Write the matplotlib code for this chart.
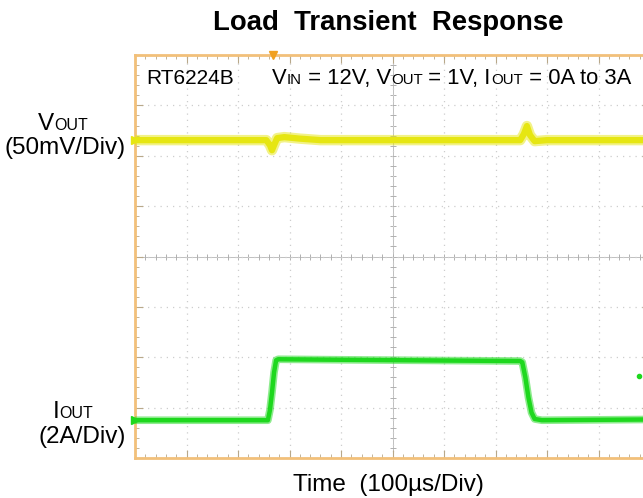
import numpy as np
import matplotlib
matplotlib.use("Agg")
import matplotlib.pyplot as plt

plt.rcParams["font.family"] = ["Liberation Sans", "DejaVu Sans"]

# Scope settings
TIME_PER_DIV = 100     # us/div
VOUT_PER_DIV = 50      # mV/div
IOUT_PER_DIV = 2       # A/div
VOUT_POS = 6.31        # screen divisions from bottom
IOUT_POS = 0.75

# VOUT trace (AC deviation, mV)
vout_t = [0, 255, 262, 266, 270, 276, 290, 320, 360, 748, 755, 761, 767, 776, 800, 1000]
vout_mv = [0, 0, -5, -10, -5, 2, 3, 1.5, 0, 0, 6, 14, 5, -1, 0, 0]

# IOUT trace (A)
iout_t = [0, 258, 262, 266, 270, 274, 278, 400, 600, 748, 752, 758, 764, 770, 776, 790, 1000]
iout_a = [0, 0, 0.4, 1.1, 1.9, 2.38, 2.42, 2.40, 2.37, 2.35, 2.3, 1.7, 0.9, 0.3, 0.05, 0, 0.03]

TRIGGER_T = 268
MARKER_PT = (979, 1.75)

YELLOW = "#e6e612"
GREEN = "#1ed81e"
BORDER = "#f2c07a"

fig = plt.figure(figsize=(6.43, 4.98), dpi=100)
W, H = 643, 498
ax = fig.add_axes([135 / W, 40 / H, 515 / W, 403 / H])

ax.set_xlim(0, 10 * TIME_PER_DIV)
ax.set_ylim(0, 8)

# grid + border
ax.set_xticks(np.arange(0, 1001, TIME_PER_DIV))
ax.set_yticks(np.arange(0, 9, 1))
ax.set_xticks(np.arange(0, 1001, TIME_PER_DIV / 5), minor=True)
ax.set_yticks(np.arange(0, 8.01, 0.2), minor=True)
ax.grid(True, which="major", linestyle=(0, (1, 4)), color="#cdcdcd", linewidth=0.9)
ax.tick_params(which="both", direction="in", top=True, right=True,
               labelbottom=False, labelleft=False, color="#b8a88a")
ax.tick_params(which="major", length=6, width=0.8)
ax.tick_params(which="minor", length=3, width=0.6)
for sp in ax.spines.values():
    sp.set_color(BORDER)
    sp.set_linewidth(2)

# center crosshair with small ticks
ax.axhline(4, color="#c0c0c0", linewidth=0.7, zorder=1)
ax.axvline(500, color="#c0c0c0", linewidth=0.7, zorder=1)
ax.plot(np.arange(0, 1001, TIME_PER_DIV / 5), np.full(51, 4.0), linestyle="none",
        marker="|", markersize=5, color="#b0b0b0", markeredgewidth=0.7, zorder=1)
ax.plot(np.full(41, 500.0), np.arange(0, 8.01, 0.2), linestyle="none",
        marker="_", markersize=5, color="#b0b0b0", markeredgewidth=0.7, zorder=1)

# traces
vy = VOUT_POS + np.array(vout_mv) / VOUT_PER_DIV
iy = IOUT_POS + np.array(iout_a) / IOUT_PER_DIV
ax.plot(vout_t, vy, color=YELLOW, linewidth=7.5, alpha=0.5, solid_joinstyle="round", zorder=3)
ax.plot(vout_t, vy, color=YELLOW, linewidth=4.5, solid_joinstyle="round", zorder=3)
ax.plot(iout_t, iy, color=GREEN, linewidth=5.5, alpha=0.5, solid_joinstyle="round", zorder=3)
ax.plot(iout_t, iy, color=GREEN, linewidth=3.2, solid_joinstyle="round", zorder=3)
ax.plot([MARKER_PT[0]], [IOUT_POS + MARKER_PT[1] / IOUT_PER_DIV], "o", color=GREEN,
        markersize=3, zorder=3)

# channel / trigger markers
ax.plot([0], [VOUT_POS], marker=">", color=YELLOW, markersize=6, clip_on=False, zorder=4)
ax.plot([0], [IOUT_POS], marker=">", color=GREEN, markersize=6, clip_on=False, zorder=4)
ax.plot([TRIGGER_T], [8], marker="v", color="#f0a020", markersize=6, clip_on=False, zorder=4)


def chain(parts, x, y, color="black"):
    """Draw text pieces on one baseline, small pieces act as subscripts."""
    prev = None
    for s, size in parts:
        if prev is None:
            prev = fig.text(x / W, 1 - y / H, s, fontsize=size, color=color,
                            ha="left", va="baseline")
        else:
            prev = ax.annotate(s, xy=(1, 1 - y / H), xycoords=(prev, "figure fraction"),
                               fontsize=size, color=color, ha="left", va="baseline",
                               annotation_clip=False)
    return prev


BIG, SMALL = 15.8, 10.8
fig.text(146 / W, 1 - 84 / H, "RT6224B", fontsize=15, ha="left", va="baseline")
chain([("V", BIG), ("IN", SMALL), (" = 12V, V", BIG), ("OUT", SMALL),
       (" = 1V, I", BIG), ("OUT", SMALL), (" = 0A to 3A", BIG)], 272, 84)

LBL, LSUB = 17.5, 11.5
chain([("V", LBL), ("OUT", LSUB)], 38, 130)
fig.text(126 / W, 1 - 154 / H, "(50mV/Div)", fontsize=LBL, ha="right", va="baseline")
chain([("I", LBL), ("OUT", LSUB)], 53, 418)
fig.text(126 / W, 1 - 443 / H, "(2A/Div)", fontsize=LBL, ha="right", va="baseline")

fig.text(388 / W, 1 - 491 / H, "Time  (100\u00b5s/Div)", fontsize=17.5,
         ha="center", va="baseline")
fig.text(388 / W, 1 - 30 / H, "Load  Transient  Response", fontsize=19.8,
         fontweight="bold", ha="center", va="baseline")

fig.savefig("out.png", dpi=100)
